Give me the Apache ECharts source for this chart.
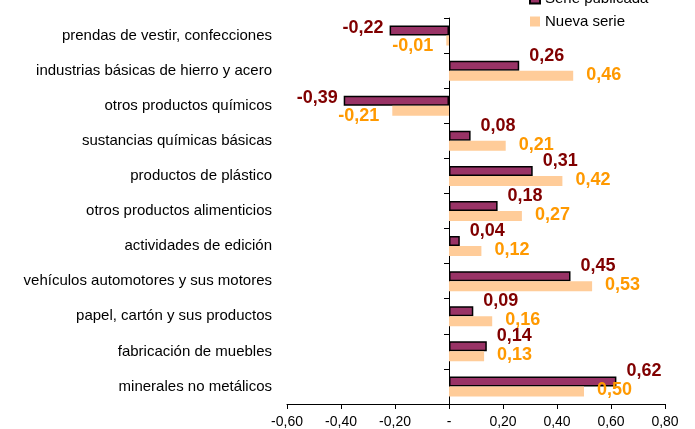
<!DOCTYPE html>
<html>
<head>
<meta charset="utf-8">
<script src="https://cdn.jsdelivr.net/npm/echarts@6/dist/echarts.min.js"></script>
<style>html,body{margin:0;padding:0;background:#fff;}#c{width:695px;height:429px;}</style>
</head>
<body>
<div id="c"></div>
<script>
var categories = [
  "prendas de vestir, confecciones",
  "industrias básicas de hierro y acero",
  "otros productos químicos",
  "sustancias químicas básicas",
  "productos de plástico",
  "otros productos alimenticios",
  "actividades de edición",
  "vehículos automotores y sus motores",
  "papel, cartón y sus productos",
  "fabricación de muebles",
  "minerales no metálicos"
];
var seriePublicada = [-0.22, 0.26, -0.39, 0.08, 0.31, 0.18, 0.04, 0.45, 0.09, 0.14, 0.62];
var nuevaSerie = [-0.01, 0.46, -0.21, 0.21, 0.42, 0.27, 0.12, 0.53, 0.16, 0.13, 0.50];
var seriesNames = ["Serie publicada", "Nueva serie"];

function fmt(v) { return v.toFixed(2).replace('.', ','); }

function buildData(values, posOff, negOff) {
  return values.map(function (v) {
    return {
      value: v,
      label: v >= 0 ? { position: 'right', offset: posOff } : { position: 'left', offset: negOff }
    };
  });
}

var chart = echarts.init(document.getElementById('c'), null, { renderer: 'canvas' });
var font = 'Liberation Sans, Arial, sans-serif';
chart.setOption({
  animation: false,
  backgroundColor: '#fff',
  textStyle: { fontFamily: font },
  legend: {
    orient: 'vertical',
    left: 524,
    top: -14,
    itemWidth: 10,
    itemHeight: 10,
    itemGap: 8,
    icon: 'rect',
    textStyle: { fontSize: 15, color: '#000', fontFamily: font },
    data: seriesNames
  },
  grid: { left: 287, right: 30, top: 18, bottom: 24, containLabel: false },
  xAxis: {
    type: 'value',
    min: -0.6, max: 0.8, interval: 0.2,
    axisLine: { show: true, lineStyle: { color: '#000', width: 1 } },
    axisTick: { show: true, length: 5, lineStyle: { color: '#000' } },
    splitLine: { show: false },
    axisLabel: {
      color: '#000', fontSize: 14, fontFamily: font, margin: 11,
      formatter: function (v) { return Math.abs(v) < 1e-9 ? '-' : fmt(v); }
    }
  },
  yAxis: [
    {
      type: 'category', data: categories, inverse: true, position: 'left',
      axisLine: { show: false, onZero: false }, axisTick: { show: false },
      axisLabel: { color: '#000', fontSize: 15, fontFamily: font, margin: 15 }
    },
    {
      type: 'category', data: categories, inverse: true, position: 'left',
      axisLine: { show: true, onZero: true, lineStyle: { color: '#000', width: 1 } },
      axisTick: { show: true, length: 5, inside: false, lineStyle: { color: '#000' } },
      axisLabel: { show: false }
    }
  ],
  series: [
    {
      name: seriesNames[0], type: 'bar', yAxisIndex: 0,
      barWidth: 10, barGap: '0%',
      itemStyle: { color: '#993366', borderColor: '#000', borderWidth: 1.5 },
      label: {
        show: true, color: '#800000', fontSize: 18, fontWeight: 'bold', fontFamily: font,
        formatter: function (p) { return fmt(p.value); }
      },
      data: buildData(seriePublicada, [5, -10], [-1, -3])
    },
    {
      name: seriesNames[1], type: 'bar', yAxisIndex: 0,
      barWidth: 10, barGap: '0%',
      itemStyle: { color: '#FFCC99' },
      label: {
        show: true, color: '#FF9900', fontSize: 18, fontWeight: 'bold', fontFamily: font,
        formatter: function (p) { return fmt(p.value); }
      },
      data: buildData(nuevaSerie, [8, -1], [-8, 5])
    }
  ]
});
</script>
</body>
</html>
